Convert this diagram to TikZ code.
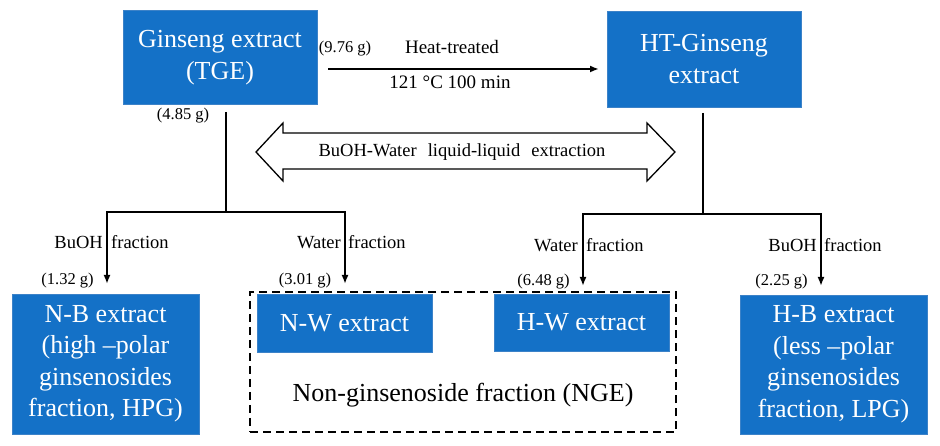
\documentclass[tikz,border=0pt]{standalone}
\usepackage{fontspec}
\setmainfont{Liberation Serif}
\usetikzlibrary{arrows.meta,calc}
\definecolor{boxblue}{RGB}{20,113,199}
\definecolor{boxedge}{RGB}{60,130,200}
\tikzset{
  bluebox/.style={fill=boxblue,draw=boxedge,line width=0.8pt,text=white,align=center,inner sep=0pt,
    font=\fontsize{26}{31.5}\selectfont},
  conn/.style={line width=2pt},
  arr/.style={line width=2pt,-{Latex[length=9pt,width=7pt]}},
  wlab/.style={font=\fontsize{16.5}{19}\selectfont,inner sep=0pt},
  flab/.style={font=\fontsize{18.5}{22}\selectfont,inner sep=0pt},
  mlab/.style={font=\fontsize{19}{22}\selectfont,inner sep=0pt}
}
\begin{document}
\begin{tikzpicture}[x=1pt,y=-1pt]
\useasboundingbox (0,0) rectangle (940,446);
% boxes
\node[bluebox,minimum width=194pt,minimum height=94pt] (tge) at (220,57.5) {Ginseng extract\\(TGE)};
\node[bluebox,minimum width=194pt,minimum height=96pt] (ht) at (704,59) {HT-Ginseng\\extract};
\node[draw,dashed,line width=2pt,dash pattern=on 8pt off 5pt,minimum width=426pt,minimum height=140pt,inner sep=0pt] (nge) at (463,362) {};
\node[bluebox,minimum width=187pt,minimum height=140pt] (nb) at (105.5,364) {N-B extract\\(high –polar\\ginsenosides\\fraction, HPG)};
\node[bluebox,minimum width=187pt,minimum height=139pt] (hb) at (833.5,364.5) {H-B extract\\(less –polar\\ginsenosides\\fraction, LPG)};
\node[bluebox,minimum width=175pt,minimum height=58pt] (nw) at (344.5,323) {N-W extract};
\node[bluebox,minimum width=175pt,minimum height=57pt] (hw) at (581.5,322.5) {H-W extract};
\node[font=\fontsize{26}{31}\selectfont,inner sep=0pt] (ngel) at (463,395) {Non-ginsenoside fraction (NGE)};
% heat arrow
\coordinate (h1) at (328,69);
\coordinate (h2) at (599,69);
\draw[arr] (h1) -- (h2);
\node[wlab] (w976) at (345,49) {(9.76 g)};
\node[mlab] (heat) at (452,47) {Heat-treated};
\node[mlab] (cond) at (450,82) {121 °C 100 min};
% double arrow
\coordinate (dl) at (256,152);
\coordinate (dr) at (675,152);
\draw[line width=1.3pt,line join=miter] (dl) -- (283,123) -- (283,133) -- (647,133) -- (647,123) -- (dr) -- (647,181) -- (647,169) -- (283,169) -- (283,181) -- cycle;
\node[flab] (bw) at (462,152) {BuOH-Water\hspace{0.35em} liquid-liquid\hspace{0.35em} extraction};
% left tree
\coordinate (l0) at (226,112);
\coordinate (l1) at (226,212);
\coordinate (la) at (107,212);
\coordinate (lb) at (345,212);
\coordinate (lat) at (107,284);
\coordinate (lbt) at (345,284);
\draw[conn] (l0) -- (l1);
\draw[conn,line cap=rect] (la) -- (lb);
\draw[arr] (la) -- (lat);
\draw[arr] (lb) -- (lbt);
\node[wlab] (w485) at (183,116) {(4.85 g)};
% right tree
\coordinate (r0) at (703,113);
\coordinate (r1) at (703,214);
\coordinate (ra) at (583,214);
\coordinate (rb) at (821,214);
\coordinate (rat) at (583,286);
\coordinate (rbt) at (821,286);
\draw[conn] (r0) -- (r1);
\draw[conn,line cap=rect] (ra) -- (rb);
\draw[arr] (ra) -- (rat);
\draw[arr] (rb) -- (rbt);
% fraction labels
\node[flab,anchor=base east] (t1) at (103,249) {BuOH};
\node[flab,anchor=base west] (t2) at (111,249) {fraction};
\node[flab,anchor=base east] (t3) at (341,249) {Water};
\node[flab,anchor=base west] (t4) at (348,249) {fraction};
\node[flab,anchor=base east] (t5) at (578,252) {Water};
\node[flab,anchor=base west] (t6) at (586,252) {fraction};
\node[flab,anchor=base east] (t7) at (817,252) {BuOH};
\node[flab,anchor=base west] (t8) at (824,252) {fraction};
% weights
\node[wlab] (w132) at (67.5,281) {(1.32 g)};
\node[wlab] (w301) at (305,281) {(3.01 g)};
\node[wlab] (w648) at (543.5,282) {(6.48 g)};
\node[wlab] (w225) at (781.5,282) {(2.25 g)};
\end{tikzpicture}
\end{document}
